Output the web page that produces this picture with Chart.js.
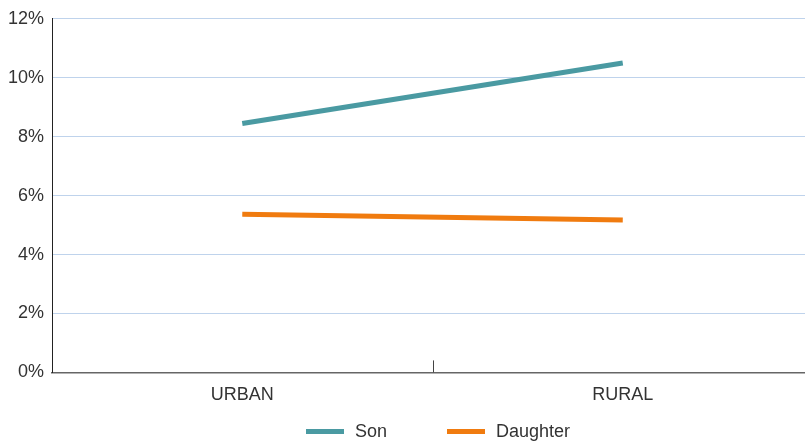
<!DOCTYPE html>
<html lang="en">
<head>
    <meta charset="UTF-8">
    <title>Son vs Daughter</title>
    <style>
        html, body {
            margin: 0;
            padding: 0;
            background: #fff;
            overflow: hidden;
            font-family: 'Liberation Sans', Arial, sans-serif;
        }
        .wrap {
            position: relative;
            width: 813px;
            height: 441px;
        }
        .legenda {
            position: absolute;
            top: 420px;
            left: 306px;
            display: flex;
            align-items: center;
            font-size: 18px;
            color: #333;
            line-height: 22px;
        }
        .legenda .item {
            display: flex;
            align-items: center;
        }
        .legenda .linha {
            display: inline-block;
            width: 38px;
            height: 5px;
            margin-right: 11px;
        }
    </style>
    <script src="https://cdn.jsdelivr.net/npm/chart.js"></script>
</head>
<body>
    <div class="wrap">
        <canvas id="grafico"></canvas>
        <div class="legenda" id="legenda"></div>
    </div>

    <script>
        // dados
        const categorias = ['URBAN', 'RURAL'];
        const son = [8.45, 10.5];
        const daughter = [5.37, 5.17];
        const ticksY = [0, 2, 4, 6, 8, 10, 12];

        const corSon = '#4a9aa2';
        const corDaughter = '#f07b0f';
        const fonte = { family: 'Liberation Sans, Arial, sans-serif', size: 18 };

        // marca no meio do eixo x (entre as categorias)
        const marcaMeio = {
            id: 'marcaMeio',
            afterDraw(chart) {
                const x = chart.scales.x;
                const ctx = chart.ctx;
                const px = (x.getPixelForValue(0) + x.getPixelForValue(1)) / 2;
                ctx.save();
                ctx.strokeStyle = '#444';
                ctx.lineWidth = 1;
                ctx.beginPath();
                ctx.moveTo(Math.round(px) + 0.5, x.top - 12);
                ctx.lineTo(Math.round(px) + 0.5, x.top);
                ctx.stroke();
                ctx.restore();
            }
        };

        const ctx = document.getElementById('grafico').getContext('2d');
        const grafico = new Chart(ctx, {
            type: 'line',
            data: {
                labels: categorias,
                datasets: [{
                    label: 'Son',
                    data: son,
                    borderColor: corSon,
                    backgroundColor: corSon,
                    borderWidth: 5,
                    pointRadius: 0,
                    borderCapStyle: 'butt'
                }, {
                    label: 'Daughter',
                    data: daughter,
                    borderColor: corDaughter,
                    backgroundColor: corDaughter,
                    borderWidth: 5,
                    pointRadius: 0,
                    borderCapStyle: 'butt'
                }]
            },
            options: {
                responsive: true,
                maintainAspectRatio: false,
                animation: false,
                layout: { padding: { top: 9, left: 0, right: 0, bottom: 23 } },
                plugins: {
                    tooltip: { enabled: false },
                    legend: { display: false }
                },
                scales: {
                    x: {
                        offset: true,
                        grid: { display: false, drawTicks: false },
                        border: { color: '#666', width: 1.5 },
                        ticks: { color: '#333', padding: 12, font: fonte }
                    },
                    y: {
                        min: 0,
                        max: 12,
                        afterBuildTicks(axis) {
                            axis.ticks = ticksY.map(v => ({ value: v }));
                        },
                        grid: { color: '#bfd3ec', lineWidth: 1, drawTicks: false },
                        border: { color: '#222', width: 1 },
                        ticks: {
                            color: '#333',
                            padding: 8,
                            font: fonte,
                            callback: v => v + '%'
                        }
                    }
                }
            },
            plugins: [marcaMeio]
        });

        // legenda em HTML a partir dos datasets
        const legenda = document.getElementById('legenda');
        grafico.data.datasets.forEach((ds, i) => {
            const item = document.createElement('span');
            item.className = 'item';
            if (i > 0) item.style.marginLeft = '60px';
            item.innerHTML = '<span class="linha" style="background:' + ds.borderColor + '"></span>' + ds.label;
            legenda.appendChild(item);
        });
    </script>
</body>
</html>
